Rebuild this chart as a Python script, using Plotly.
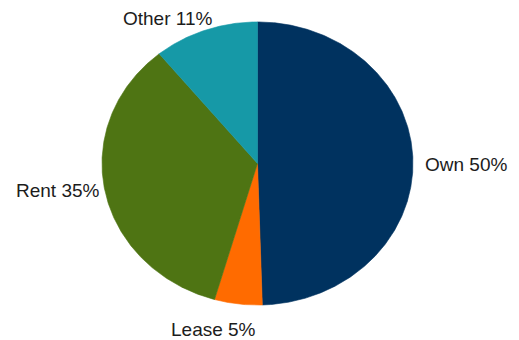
import numpy as np
import plotly.graph_objects as go

# Share of occupancy by tenure type (percent)
categories = ["Own", "Lease", "Rent", "Other"]
shares = [50, 5, 35, 11]
colors = ["#00325f", "#ff6b00", "#4e7413", "#1699a7"]

# Label anchor points in the unit-ellipse coordinate space
label_pos = [(1.341, -0.007), (-0.280, -1.170), (-1.283, -0.191), (-0.574, 1.022)]

fig = go.Figure()

total = float(sum(shares))
start = 0.0
for name, val, col in zip(categories, shares, colors):
    frac = val / total
    # clockwise from 12 o'clock
    t = np.linspace(start, start + frac, max(int(frac * 720), 8)) * 2 * np.pi
    xs = np.concatenate([[0.0], np.sin(t), [0.0]])
    ys = np.concatenate([[0.0], np.cos(t), [0.0]])
    fig.add_trace(go.Scatter(
        x=xs, y=ys, mode="lines", fill="toself",
        fillcolor=col, line=dict(color=col, width=0.6),
        hoverinfo="name", name=name, showlegend=False,
    ))
    start += frac

for (lx, ly), name, val in zip(label_pos, categories, shares):
    fig.add_annotation(
        x=lx, y=ly, text=f"{name} {val}%", showarrow=False,
        font=dict(family="Liberation Sans, Arial, sans-serif", size=19, color="#1c1c1c"),
        xanchor="center", yanchor="middle",
    )

fig.update_layout(
    width=519, height=340,
    margin=dict(l=0, r=0, t=0, b=0),
    paper_bgcolor="white", plot_bgcolor="white",
    xaxis=dict(range=[-1.656, 1.682], visible=False, fixedrange=True),
    yaxis=dict(range=[-1.247, 1.155], visible=False, fixedrange=True),
)

fig.write_html("out.html")
